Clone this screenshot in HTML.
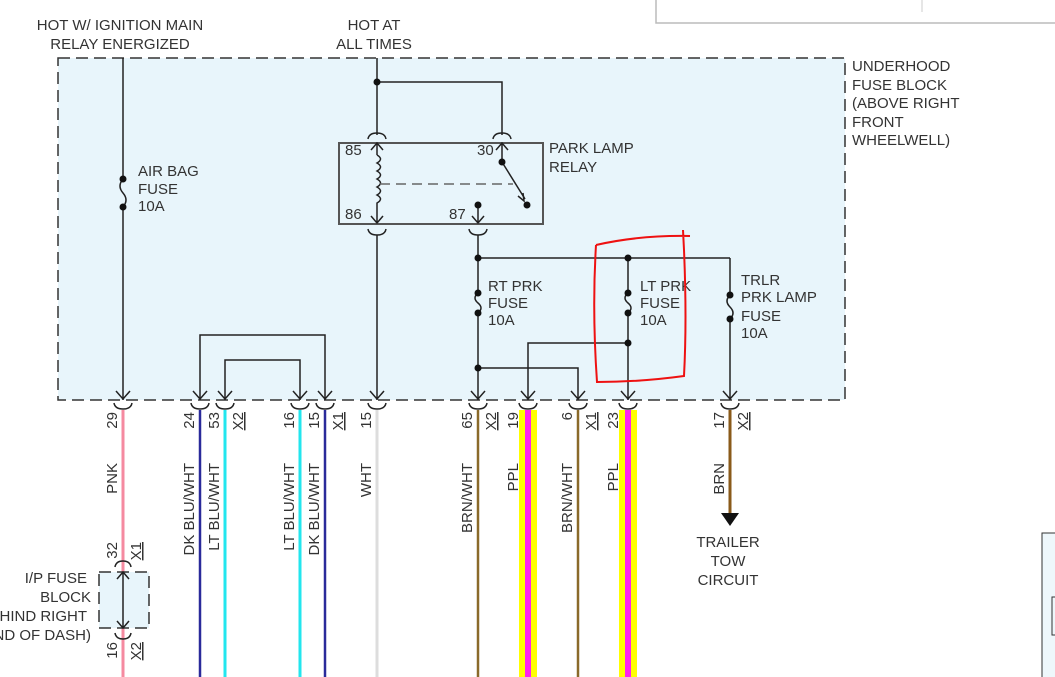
<!DOCTYPE html>
<html><head><meta charset="utf-8"><style>
html,body{margin:0;padding:0;background:#fff;width:1055px;height:677px;overflow:hidden}
svg text{font-family:"Liberation Sans",sans-serif;font-size:15px;fill:#333}
</style></head><body>
<svg width="1055" height="677" viewBox="0 0 1055 677" xmlns="http://www.w3.org/2000/svg">
<!-- popup top right -->
<rect x="656" y="-4" width="405" height="27" fill="#fff" stroke="#bbb" stroke-width="1.5"/>
<line x1="922" y1="0" x2="922" y2="12" stroke="#ccc"/>
<!-- right bottom box -->
<rect x="1042" y="533" width="20" height="150" fill="#eef7fb" stroke="#333" stroke-width="1"/>
<rect x="1052" y="597" width="10" height="38" fill="none" stroke="#333"/>
<!-- main dashed box -->
<rect x="58" y="58" width="787" height="342" fill="#e8f5fb" stroke="#333" stroke-width="1.5" stroke-dasharray="12,6"/>
<!-- top labels -->
<text x="120" y="30" text-anchor="middle">HOT W/ IGNITION MAIN</text>
<text x="120" y="49" text-anchor="middle">RELAY ENERGIZED</text>
<text x="374" y="30" text-anchor="middle">HOT AT</text>
<text x="374" y="49" text-anchor="middle">ALL TIMES</text>
<text x="852" y="71">UNDERHOOD</text>
<text x="852" y="90">FUSE BLOCK</text>
<text x="852" y="108">(ABOVE RIGHT</text>
<text x="852" y="127">FRONT</text>
<text x="852" y="145">WHEELWELL)</text>
<g stroke="#222" stroke-width="1.5" fill="none">
<line x1="123" y1="58" x2="123" y2="179"/>
<path d="M123 179 q-6 7 0 14 q6 7 0 14"/>
<line x1="123" y1="207" x2="123" y2="400"/>
<line x1="377" y1="58" x2="377" y2="135"/>
<path d="M377 82 H502 V135"/>
<path d="M368 139 q1-6 9-6 q8 0 9 6"/>
<path d="M493 139 q1-6 9-6 q8 0 9 6"/>
<rect x="339" y="143" width="204" height="81" stroke="#555" stroke-width="2"/>
<path d="M371 150 L377 143 L383 150 M377 143 V155"/>
<path d="M377 155 q7 4 0 8 q7 4 0 8 q7 4 0 8 q7 4 0 8 q7 4 0 8 q7 4 0 8 V223 M371 216 L377 223 L383 216"/>
<line x1="380" y1="184" x2="513" y2="184" stroke="#666" stroke-dasharray="10,6"/>
<path d="M496 150 L502 143 L508 150 M502 143 V162 L525 199"/>
<path d="M518 196 L524 201 L523 193"/>
<path d="M478 206 V223 M472 216 L478 223 L484 216"/>
<path d="M368 229 q1 6 9 6 q8 0 9-6"/>
<path d="M469 229 q1 6 9 6 q8 0 9-6"/>
<line x1="377" y1="235" x2="377" y2="400"/>
<line x1="478" y1="235" x2="478" y2="293"/>
<line x1="478" y1="258" x2="730" y2="258"/>
<line x1="730" y1="258" x2="730" y2="293"/>
<line x1="628" y1="258" x2="628" y2="293"/>
<path d="M478 293 q-6 5 0 10 q6 5 0 10"/>
<path d="M628 293 q-6 5 0 10 q6 5 0 10"/>
<path d="M730 295 q-6 6 0 12 q6 6 0 12"/>
<line x1="478" y1="313" x2="478" y2="400"/>
<line x1="628" y1="313" x2="628" y2="400"/>
<line x1="730" y1="319" x2="730" y2="400"/>
<path d="M628 343 H528 V400"/>
<path d="M478 368 H578 V400"/>
<path d="M200 400 V335 H325 V400"/>
<path d="M225 400 V360 H300 V400"/>
<path d="M116 391 L123 399 L130 391 M193 391 L200 399 L207 391 M218 391 L225 399 L232 391 M293 391 L300 399 L307 391 M318 391 L325 399 L332 391 M370 391 L377 399 L384 391 M471 391 L478 399 L485 391 M521 391 L528 399 L535 391 M571 391 L578 399 L585 391 M621 391 L628 399 L635 391 M723 391 L730 399 L737 391"/>
</g>
<g fill="#111">
<circle cx="123" cy="179" r="3.5"/><circle cx="123" cy="207" r="3.5"/>
<circle cx="377" cy="82" r="3.5"/>
<circle cx="502" cy="162" r="3.5"/><circle cx="527" cy="205" r="3.5"/><circle cx="478" cy="205" r="3.5"/>
<circle cx="478" cy="258" r="3.5"/><circle cx="628" cy="258" r="3.5"/>
<circle cx="478" cy="293" r="3.5"/><circle cx="478" cy="313" r="3.5"/>
<circle cx="628" cy="293" r="3.5"/><circle cx="628" cy="313" r="3.5"/>
<circle cx="730" cy="295" r="3.5"/><circle cx="730" cy="319" r="3.5"/>
<circle cx="628" cy="343" r="3.5"/><circle cx="478" cy="368" r="3.5"/>
</g>
<text x="138" y="176">AIR BAG</text><text x="138" y="194">FUSE</text><text x="138" y="211">10A</text>
<text x="345" y="155">85</text><text x="477" y="155">30</text>
<text x="345" y="219">86</text><text x="449" y="219">87</text>
<text x="549" y="153">PARK LAMP</text><text x="549" y="172">RELAY</text>
<text x="488" y="291">RT PRK</text><text x="488" y="308">FUSE</text><text x="488" y="325">10A</text>
<text x="640" y="291">LT PRK</text><text x="640" y="308">FUSE</text><text x="640" y="325">10A</text>
<text x="741" y="285">TRLR</text><text x="741" y="302">PRK LAMP</text><text x="741" y="321">FUSE</text><text x="741" y="338">10A</text>
<line x1="123" y1="410" x2="123" y2="677" stroke="#f58aa0" stroke-width="3"/>
<line x1="200" y1="410" x2="200" y2="677" stroke="#2a2a9a" stroke-width="2.5"/>
<line x1="225" y1="410" x2="225" y2="677" stroke="#22e6ee" stroke-width="3"/>
<line x1="300" y1="410" x2="300" y2="677" stroke="#22e6ee" stroke-width="3"/>
<line x1="325" y1="410" x2="325" y2="677" stroke="#2a2a9a" stroke-width="2.5"/>
<line x1="377" y1="410" x2="377" y2="677" stroke="#ddd" stroke-width="3"/>
<line x1="478" y1="410" x2="478" y2="677" stroke="#8a6a2a" stroke-width="2.5"/>
<line x1="578" y1="410" x2="578" y2="677" stroke="#8a6a2a" stroke-width="2.5"/>
<rect x="519" y="410" width="18" height="267" fill="#ffff00"/><rect x="525" y="410" width="6" height="267" fill="#ff22ee"/>
<rect x="619" y="410" width="18" height="267" fill="#ffff00"/><rect x="625" y="410" width="6" height="267" fill="#ff22ee"/>
<line x1="730" y1="410" x2="730" y2="514" stroke="#8a5a1a" stroke-width="3"/>
<polygon points="721,513 739,513 730,526" fill="#111"/>
<g stroke="#222" stroke-width="1.5" fill="none">
<path d="M114 403 q1 6 9 6 q8 0 9-6 M191 403 q1 6 9 6 q8 0 9-6 M216 403 q1 6 9 6 q8 0 9-6 M291 403 q1 6 9 6 q8 0 9-6 M316 403 q1 6 9 6 q8 0 9-6 M368 403 q1 6 9 6 q8 0 9-6 M469 403 q1 6 9 6 q8 0 9-6 M519 403 q1 6 9 6 q8 0 9-6 M569 403 q1 6 9 6 q8 0 9-6 M619 403 q1 6 9 6 q8 0 9-6 M721 403 q1 6 9 6 q8 0 9-6"/>
</g>
<g>
<text transform="translate(117,412) rotate(-90)" text-anchor="end">29</text>
<text transform="translate(117,463) rotate(-90)" text-anchor="end">PNK</text>
<text transform="translate(194,412) rotate(-90)" text-anchor="end">24</text>
<text transform="translate(194,463) rotate(-90)" text-anchor="end">DK BLU/WHT</text>
<text transform="translate(219,412) rotate(-90)" text-anchor="end">53</text>
<text transform="translate(219,463) rotate(-90)" text-anchor="end">LT BLU/WHT</text>
<text transform="translate(243,412) rotate(-90)" text-anchor="end" text-decoration="underline">X2</text>
<text transform="translate(294,412) rotate(-90)" text-anchor="end">16</text>
<text transform="translate(294,463) rotate(-90)" text-anchor="end">LT BLU/WHT</text>
<text transform="translate(319,412) rotate(-90)" text-anchor="end">15</text>
<text transform="translate(319,463) rotate(-90)" text-anchor="end">DK BLU/WHT</text>
<text transform="translate(343,412) rotate(-90)" text-anchor="end" text-decoration="underline">X1</text>
<text transform="translate(371,412) rotate(-90)" text-anchor="end">15</text>
<text transform="translate(371,463) rotate(-90)" text-anchor="end">WHT</text>
<text transform="translate(472,412) rotate(-90)" text-anchor="end">65</text>
<text transform="translate(472,463) rotate(-90)" text-anchor="end">BRN/WHT</text>
<text transform="translate(496,412) rotate(-90)" text-anchor="end" text-decoration="underline">X2</text>
<text transform="translate(518,412) rotate(-90)" text-anchor="end">19</text>
<text transform="translate(518,463) rotate(-90)" text-anchor="end">PPL</text>
<text transform="translate(572,412) rotate(-90)" text-anchor="end">6</text>
<text transform="translate(572,463) rotate(-90)" text-anchor="end">BRN/WHT</text>
<text transform="translate(596,412) rotate(-90)" text-anchor="end" text-decoration="underline">X1</text>
<text transform="translate(618,412) rotate(-90)" text-anchor="end">23</text>
<text transform="translate(618,463) rotate(-90)" text-anchor="end">PPL</text>
<text transform="translate(724,412) rotate(-90)" text-anchor="end">17</text>
<text transform="translate(724,463) rotate(-90)" text-anchor="end">BRN</text>
<text transform="translate(748,412) rotate(-90)" text-anchor="end" text-decoration="underline">X2</text>
<text transform="translate(117,542) rotate(-90)" text-anchor="end">32</text>
<text transform="translate(141,542) rotate(-90)" text-anchor="end" text-decoration="underline">X1</text>
<text transform="translate(117,642) rotate(-90)" text-anchor="end">16</text>
<text transform="translate(141,642) rotate(-90)" text-anchor="end" text-decoration="underline">X2</text>
</g>
<text x="728" y="547" text-anchor="middle">TRAILER</text>
<text x="728" y="566" text-anchor="middle">TOW</text>
<text x="728" y="585" text-anchor="middle">CIRCUIT</text>
<rect x="99" y="572" width="50" height="56" fill="#e8f5fb" stroke="#333" stroke-width="1.5" stroke-dasharray="12,6"/>
<g stroke="#222" stroke-width="1.5" fill="none">
<path d="M115 567 q1-6 8-6 q7 0 8 6"/>
<path d="M115 633 q1 6 8 6 q7 0 8-6"/>
<path d="M123 572 V628 M117 579 L123 572 L129 579 M117 621 L123 628 L129 621"/>
</g>
<text x="87" y="583" text-anchor="end">I/P FUSE</text>
<text x="91" y="602" text-anchor="end">BLOCK</text>
<text x="87" y="621" text-anchor="end">(BEHIND RIGHT</text>
<text x="91" y="640" text-anchor="end">END OF DASH)</text>
<path d="M596 245 Q640 235 690 236 M683 230 L684 250 Q687 320 684 376 Q640 382 597 382 Q592 310 596 245" fill="none" stroke="#ee1111" stroke-width="2"/>
</svg>
</body></html>
